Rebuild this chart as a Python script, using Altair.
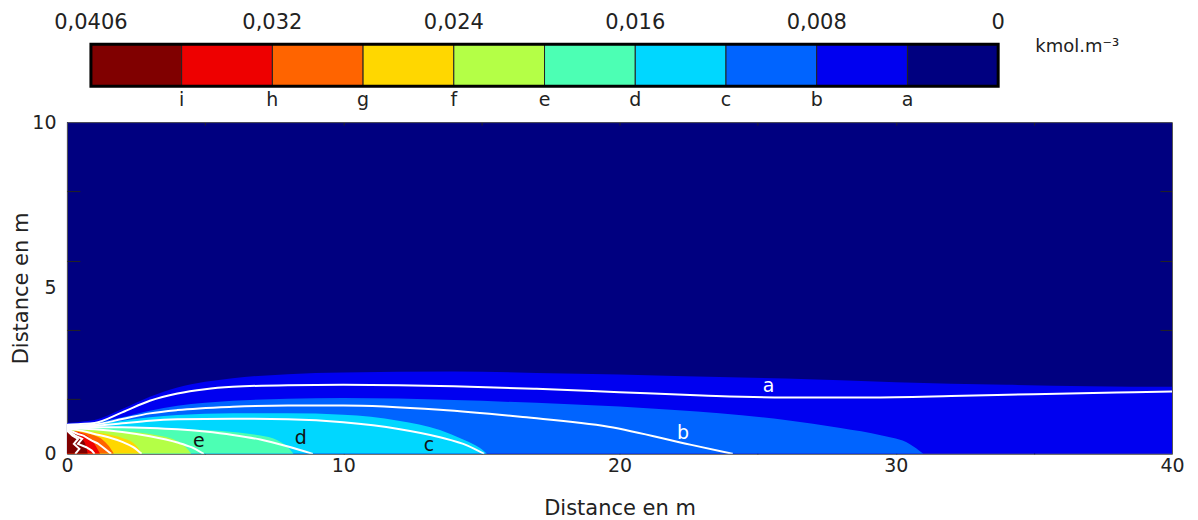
import altair as alt
import pandas as pd

FONT = "DejaVu Sans"
W, H = 1106, 332

# ---------------- colour bar ----------------
bar_colors = ["#800000", "#EE0000", "#FF6400", "#FFD700", "#B4FF46",
              "#4CFFB4", "#00D7FF", "#0064FF", "#0000F0", "#000080"]
bar_value_labels = ["0,0406", "0,032", "0,024", "0,016", "0,008", "0"]
bar_value_pos = [0, 2, 4, 6, 8, 10]
bar_letters = ["i", "h", "g", "f", "e", "d", "c", "b", "a"]
bar_letter_pos = [1, 2, 3, 4, 5, 6, 7, 8, 9]
unit_label = "kmol.m⁻³"

# ---------------- filled bands (top boundary of each band) ----------------
band_names = ["a", "b", "c", "d", "e", "f", "g", "h", "i"]
band_colors = ["#0000F0", "#0064FF", "#00D7FF", "#4CFFB4", "#B4FF46",
               "#FFD700", "#FF6400", "#EE0000", "#800000"]

fill_a_x = [0, 0.5, 1, 2, 3, 4, 5, 6, 8, 10, 14, 18, 22, 26, 30, 34, 37, 40]
fill_a_y = [0.93, 0.97, 1.02, 1.35, 1.72, 2.0, 2.17, 2.28, 2.4, 2.45, 2.48, 2.42, 2.35, 2.27, 2.16, 2.08, 2.04, 2.02]
fill_b_x = [0, 1, 2, 3, 4, 6, 8, 10, 14, 18, 22, 26, 28, 29.5, 30.5, 31]
fill_b_y = [0.9, 0.95, 1.1, 1.3, 1.45, 1.6, 1.66, 1.68, 1.62, 1.5, 1.32, 1.02, 0.78, 0.55, 0.3, 0]
fill_c_x = [0, 1, 2, 3, 4, 6, 8, 10, 12, 13.5, 14.3, 14.8, 15.1, 15.2]
fill_c_y = [0.85, 0.9, 1.0, 1.1, 1.17, 1.22, 1.22, 1.18, 1.0, 0.72, 0.45, 0.25, 0.08, 0]
fill_d_x = [0, 1, 2, 3, 4, 5, 6, 7, 7.6, 8.0, 8.2]
fill_d_y = [0.8, 0.8, 0.8, 0.78, 0.75, 0.72, 0.66, 0.55, 0.42, 0.2, 0]
fill_e_x = [0, 1, 2, 3, 3.5, 4, 4.3, 4.5]
fill_e_y = [0.75, 0.72, 0.68, 0.6, 0.52, 0.38, 0.2, 0]
fill_f_x = [0, 1, 1.5, 2, 2.4, 2.6, 2.7]
fill_f_y = [0.7, 0.65, 0.58, 0.48, 0.33, 0.15, 0]
fill_g_x = [0, 0.5, 1, 1.3, 1.5, 1.7]
fill_g_y = [0.7, 0.66, 0.55, 0.42, 0.25, 0]
fill_h_x = [0, 0.4, 0.8, 1.0, 1.2]
fill_h_y = [0.7, 0.65, 0.5, 0.3, 0]
fill_i_x = [0, 0.3, 0.55, 0.7, 0.75]
fill_i_y = [0.67, 0.6, 0.45, 0.2, 0]

fill_x = [fill_a_x, fill_b_x, fill_c_x, fill_d_x, fill_e_x, fill_f_x, fill_g_x, fill_h_x, fill_i_x]
fill_y = [fill_a_y, fill_b_y, fill_c_y, fill_d_y, fill_e_y, fill_f_y, fill_g_y, fill_h_y, fill_i_y]

# ---------------- white iso-lines ----------------
line_a_x = [0, 0.5, 1, 2, 3, 4, 5, 6, 8, 10, 12, 14, 17, 20, 23, 26, 29, 32, 35, 38, 40]
line_a_y = [0.88, 0.9, 0.93, 1.25, 1.6, 1.82, 1.95, 2.02, 2.07, 2.08, 2.07, 2.04, 1.96, 1.86, 1.76, 1.7, 1.7, 1.74, 1.8, 1.85, 1.88]
line_b_x = [0, 0.5, 1, 2, 3, 4, 6, 8, 10, 13.5, 16.5, 19.6, 22.6, 24.1]
line_b_y = [0.85, 0.86, 0.88, 1.05, 1.22, 1.32, 1.42, 1.46, 1.46, 1.33, 1.11, 0.82, 0.27, 0]
line_c_x = [0, 1, 2, 3, 4, 6, 8, 10, 12, 13.5, 14.5, 15.1]
line_c_y = [0.82, 0.84, 0.92, 1.0, 1.04, 1.06, 1.04, 0.95, 0.75, 0.5, 0.25, 0]
line_d_x = [0, 1, 2, 3, 4, 5, 6, 7, 8, 8.9]
line_d_y = [0.8, 0.8, 0.8, 0.78, 0.74, 0.67, 0.57, 0.43, 0.22, 0]
line_e_x = [0, 1, 2, 3, 4, 4.5, 4.95]
line_e_y = [0.78, 0.74, 0.66, 0.53, 0.34, 0.2, 0]
line_f_x = [0, 0.5, 1, 1.5, 2, 2.4, 2.7]
line_f_y = [0.76, 0.7, 0.6, 0.5, 0.36, 0.2, 0]
line_g_x = [0, 0.4, 0.6, 0.9, 1.1, 1.3, 1.6]
line_g_y = [0.74, 0.6, 0.55, 0.4, 0.32, 0.2, 0]
line_h_x = [0, 0.3, 0.55, 0.4, 0.7, 0.9, 1.0]
line_h_y = [0.72, 0.55, 0.45, 0.3, 0.2, 0.1, 0]
line_i_x = [0, 0.2, 0.4, 0.25, 0.45, 0.3]
line_i_y = [0.7, 0.55, 0.45, 0.3, 0.15, 0]

line_x = [line_a_x, line_b_x, line_c_x, line_d_x, line_e_x, line_f_x, line_g_x, line_h_x, line_i_x]
line_y = [line_a_y, line_b_y, line_c_y, line_d_y, line_e_y, line_f_y, line_g_y, line_h_y, line_i_y]
smooth_levels = ["a", "b", "c", "d", "e", "f"]

# ---------------- in-plot labels ----------------
plot_label_text = ["a", "b", "c", "d", "e"]
plot_label_x = [25.4, 22.3, 13.1, 8.46, 4.77]
plot_label_y = [2.05, 0.63, 0.27, 0.48, 0.39]
plot_label_color = ["white", "white", "#111111", "#111111", "#111111"]

# ---------------- axes ----------------
x_label_values = [0, 10, 20, 30, 40]
x_tick_values = [5, 10, 15, 20, 25, 30, 35]
y_label_values = [0, 5, 10]
y_tick_values = [1.65, 3.73, 5.82, 7.93]

xscale = alt.Scale(domain=[0, 40], nice=False, zero=False)
yscale = alt.Scale(domain=[0, 10], nice=False, zero=False)

ax_x_main = alt.Axis(values=x_label_values, ticks=False, tickSize=0, labelPadding=3,
                     grid=False, domainColor="#555555", labelFont=FONT, labelFontSize=19,
                     labelColor="#222222", labelFlush=False, title="Distance en m",
                     titleFont=FONT, titleFontSize=21, titleFontWeight="normal",
                     titleColor="#222222", titlePadding=22, format="d")
ax_y_main = alt.Axis(values=y_label_values, ticks=False, tickSize=0, labelPadding=11,
                     grid=False, domainColor="#555555", labelFont=FONT, labelFontSize=19,
                     labelColor="#222222", labelFlush=False, title="Distance en m",
                     titleFont=FONT, titleFontSize=21, titleFontWeight="normal",
                     titleColor="#222222", titlePadding=0, format="d")
ax_x_bottom_in = alt.Axis(orient="top", offset=-H, values=x_tick_values, labels=False,
                          tickSize=4, tickColor="#222222", domain=False, grid=False, title=None)
ax_x_top_in = alt.Axis(orient="bottom", offset=-H, values=x_tick_values, labels=False,
                       tickSize=3, tickColor="#222222", domain=True, domainColor="#555555",
                       grid=False, title=None)
ax_y_left_in = alt.Axis(orient="right", offset=-W, values=y_tick_values, labels=False,
                        tickSize=13, tickColor="#222222", domain=False, grid=False, title=None)
ax_y_right_in = alt.Axis(orient="left", offset=-W, values=y_tick_values, labels=False,
                         tickSize=12, tickColor="#222222", domain=True, domainColor="#555555",
                         grid=False, title=None)

axis_pairs = [(ax_x_main, ax_y_main), (ax_x_bottom_in, ax_y_left_in), (ax_x_top_in, ax_y_right_in)]

layers = []
for k, name in enumerate(band_names):
    df = pd.DataFrame({"x": fill_x[k], "y": fill_y[k]})
    if k < len(axis_pairs):
        axx, axy = axis_pairs[k]
    else:
        axx, axy = None, None
    layers.append(
        alt.Chart(df).mark_area(color=band_colors[k], clip=True, interpolate="monotone").encode(
            x=alt.X("x:Q", scale=xscale, axis=axx),
            y=alt.Y("y:Q", scale=yscale, axis=axy),
        )
    )

rows_s, rows_j = [], []
for k, name in enumerate(band_names):
    for j, (xv, yv) in enumerate(zip(line_x[k], line_y[k])):
        row = {"level": name, "order": j, "x": xv, "y": yv}
        (rows_s if name in smooth_levels else rows_j).append(row)

for rows, interp in [(rows_s, "monotone"), (rows_j, "linear")]:
    layers.append(
        alt.Chart(pd.DataFrame(rows)).mark_line(color="white", strokeWidth=2, clip=True,
                                                interpolate=interp).encode(
            x=alt.X("x:Q", scale=xscale, axis=None),
            y=alt.Y("y:Q", scale=yscale, axis=None),
            detail="level:N",
            order="order:Q",
        )
    )

lab_df = pd.DataFrame({"t": plot_label_text, "x": plot_label_x, "y": plot_label_y, "c": plot_label_color})
layers.append(
    alt.Chart(lab_df).mark_text(font=FONT, fontSize=19, baseline="middle", align="center").encode(
        x=alt.X("x:Q", scale=xscale, axis=None),
        y=alt.Y("y:Q", scale=yscale, axis=None),
        text="t:N",
        color=alt.Color("c:N", scale=None),
    )
)

main = alt.layer(*layers).resolve_axis(x="independent", y="independent").properties(
    width=W, height=H, view=alt.ViewBackground(fill="#000080", stroke=None)
)

# ---------------- colour bar chart ----------------
BH = 42
cb_scale = alt.Scale(domain=[-24 / 90.8, (W - 24) / 90.8], nice=False, zero=False)
cb_df = pd.DataFrame({"lo": list(range(10)), "hi": list(range(1, 11)), "c": bar_colors})
cb_rects = alt.Chart(cb_df).mark_rect(stroke="#222222", strokeWidth=1).encode(
    x=alt.X("lo:Q", scale=cb_scale, axis=None), x2="hi:Q",
    y=alt.value(0), y2=alt.value(BH),
    color=alt.Color("c:N", scale=None),
)
border_df = pd.DataFrame({"lo": [bar_value_pos[0]], "hi": [bar_value_pos[-1]]})
cb_border = alt.Chart(border_df).mark_rect(filled=False, stroke="black", strokeWidth=3).encode(
    x=alt.X("lo:Q", scale=cb_scale, axis=None), x2="hi:Q",
    y=alt.value(0), y2=alt.value(BH),
)
val_df = pd.DataFrame({"t": bar_value_labels, "p": bar_value_pos})
cb_vals = alt.Chart(val_df).mark_text(font=FONT, fontSize=21, baseline="middle", align="center",
                                       color="#222222").encode(
    x=alt.X("p:Q", scale=cb_scale, axis=None), y=alt.value(-21), text="t:N")
let_df = pd.DataFrame({"t": bar_letters, "p": bar_letter_pos})
cb_lets = alt.Chart(let_df).mark_text(font=FONT, fontSize=19, baseline="middle", align="center",
                                       color="#222222").encode(
    x=alt.X("p:Q", scale=cb_scale, axis=None), y=alt.value(56), text="t:N")
unit_df = pd.DataFrame({"t": [unit_label], "p": [10.41]})
cb_unit = alt.Chart(unit_df).mark_text(font=FONT, fontSize=18, baseline="middle", align="left",
                                        color="#222222").encode(
    x=alt.X("p:Q", scale=cb_scale, axis=None), y=alt.value(3), text="t:N")

colorbar = alt.layer(cb_rects, cb_border, cb_vals, cb_lets, cb_unit).properties(
    width=W, height=BH, view=alt.ViewBackground(stroke=None)
)

chart = alt.vconcat(colorbar, main, spacing=36, bounds="flush").properties(
    padding={"left": 2, "top": 4, "right": 5, "bottom": 5}
).configure_view(stroke=None)

chart.save("out.html", embed_options={"renderer": "svg", "actions": False})
